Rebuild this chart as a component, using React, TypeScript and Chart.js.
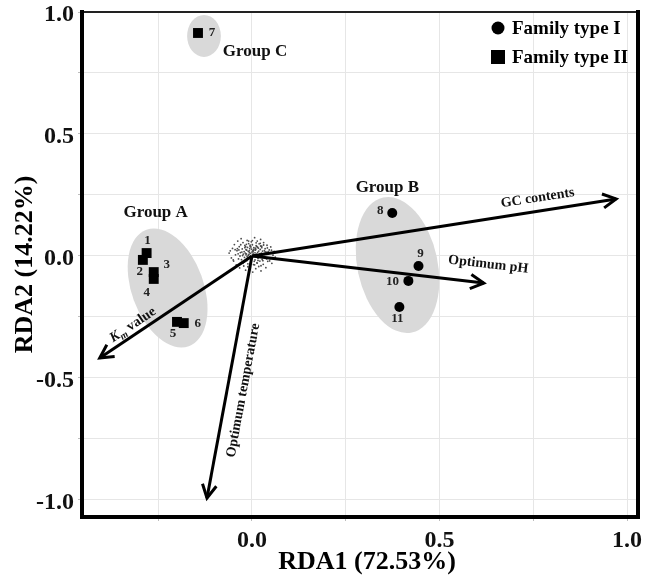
import React, { useEffect, useRef } from 'react';
import { Chart, registerables } from 'chart.js';
Chart.register(...registerables);

// ---------- data ----------
const typeIIIds = ['1', '2', '3', '4', '5', '6', '7'];
const typeIIX = [-0.281, -0.291, -0.262, -0.262, -0.2, -0.182, -0.144];
const typeIIY = [0.012, -0.016, -0.066, -0.094, -0.27, -0.275, 0.914];

const typeIIds = ['8', '9', '10', '11'];
const typeIX = [0.374, 0.444, 0.417, 0.393];
const typeIY = [0.176, -0.041, -0.102, -0.209];

const envNames = ['GC contents', 'Optimum pH', 'Km value', 'Optimum temperature'];
const envX = [0.971, 0.618, -0.406, -0.12];
const envY = [0.234, -0.111, -0.418, -0.992];

const cloudX = [
  -0.061, -0.055, -0.052, -0.049, -0.047, -0.044, -0.042, -0.04, -0.038, -0.036, -0.034, -0.033, -0.031, -0.029,
  -0.028, -0.026, -0.025, -0.024, -0.022, -0.021, -0.02, -0.019, -0.017, -0.016, -0.015, -0.014, -0.013, -0.012,
  -0.011, -0.01, -0.009, -0.008, -0.007, -0.006, -0.005, -0.004, -0.003, -0.002, -0.001, 0.0, 0.001, 0.002, 0.003,
  0.004, 0.005, 0.006, 0.007, 0.008, 0.009, 0.01, 0.011, 0.012, 0.013, 0.014, 0.015, 0.016, 0.017, 0.018, 0.019,
  0.02, 0.021, 0.022, 0.023, 0.024, 0.025, 0.026, 0.027, 0.028, 0.03, 0.031, 0.032, 0.034, 0.035, 0.037, 0.038,
  0.04, 0.042, 0.044, 0.046, 0.048, 0.05, 0.053, 0.056, 0.059, 0.062,
  -0.018, -0.01, -0.004, 0.003, 0.008, 0.012, -0.013, -0.006, 0.018, 0.006, -0.023, 0.015, -0.002, 0.021, 0.01,
  -0.027, 0.027, -0.008, 0.004, 0.016, -0.015, 0.033, -0.032, 0.0, 0.024, -0.02, 0.041, -0.039, 0.011, -0.011,
  -0.035, -0.028, -0.019, -0.012, -0.005, 0.002, 0.009, 0.016, 0.023, 0.029, 0.036, 0.043, -0.045, -0.03,
  -0.016, -0.007, 0.005, 0.013, 0.026, 0.039, -0.024, -0.009, 0.007, 0.019, 0.031, -0.017, 0.001, 0.014,
  -0.058, 0.052, -0.05, 0.047, -0.003, 0.022, -0.037, 0.035, -0.014, 0.008,
];
const cloudY = [
  0.012, -0.008, 0.031, -0.021, 0.047, 0.005, -0.037, 0.022, 0.061, -0.012, 0.038, -0.049, 0.014, 0.071,
  -0.027, 0.029, 0.002, 0.055, -0.041, 0.018, -0.006, 0.043, -0.058, 0.026, 0.009, -0.019, 0.064, 0.035,
  -0.032, 0.003, 0.051, -0.011, 0.021, -0.047, 0.039, 0.011, -0.024, 0.058, 0.028, -0.006, 0.046, -0.066, 0.017,
  -0.035, 0.034, 0.004, 0.075, -0.016, 0.024, -0.052, 0.042, 0.008, -0.028, 0.061, 0.015, -0.009, 0.032, -0.043, 0.05,
  0.001, -0.021, 0.027, 0.068, -0.061, 0.012, 0.04, -0.014, 0.02, -0.034, 0.055, 0.006, -0.004, 0.03, -0.048, 0.016,
  0.044, -0.022, 0.009, 0.025, -0.011, 0.037, -0.03, 0.003, 0.019, -0.005,
  0.012, 0.019, -0.002, 0.009, 0.013, -0.004, -0.002, 0.03, 0.02, -0.022, 0.008, 0.036, -0.014, 0.01, 0.028,
  0.016, 0.002, 0.007, 0.023, -0.018, 0.048, 0.022, 0.0, 0.016, -0.04, -0.025, 0.033, 0.03, 0.054, -0.044,
  0.025, -0.015, 0.034, -0.009, 0.044, 0.021, 0.032, 0.006, 0.041, -0.019, 0.011, 0.018, 0.026, 0.046,
  0.005, 0.014, 0.027, 0.039, 0.034, -0.012, -0.03, 0.061, -0.036, 0.002, 0.045, 0.038, 0.063, -0.029,
  0.021, 0.024, -0.016, -0.02, 0.037, 0.052, 0.009, 0.017, 0.024, 0.004,
];

const groupNames = ['Group A', 'Group B', 'Group C'];
const groupCX = [-0.225, 0.388, -0.128];
const groupCY = [-0.131, -0.037, 0.902];
const groupRX = [0.096, 0.107, 0.045];
const groupRY = [0.254, 0.283, 0.086];
const groupTilt = [-20, -12, 0];
const groupLabelX = [-0.257, 0.361, 0.008];
const groupLabelY = [0.176, 0.279, 0.836];

const xGrid = [-0.25, 0, 0.25, 0.5, 0.75, 1.0];
const yGrid = [-1.0, -0.75, -0.5, -0.25, 0, 0.25, 0.5, 0.75, 1.0];
const labeledTicks = [-1.0, -0.5, 0, 0.5, 1.0];

const xTitle = 'RDA1 (72.53%)';
const yTitle = 'RDA2 (14.22%)';
const legendLabels = ['Family type I', 'Family type II'];

// ---------- styles ----------
const SERIF = '"Liberation Serif", "Times New Roman", serif';
const labelOffsetsII = [[1, -12], [-3, 12], [13, -7], [-7, 14], [-4, 12], [14, 1], [14, 0]];
const labelOffsetsI = [[-12, -2], [2, -12], [-16, 1], [-2, 12]];
const envLabelStyle = [
  { frac: 0.79, off: 13 },
  { frac: 1.01, off: 19 },
  { frac: 0.75, off: 9 },
  { frac: 0.543, off: -16 },
];

const overlayPlugin = {
  id: 'overlay',
  beforeDatasetsDraw(chart: any) {
    const { ctx, chartArea } = chart;
    const xs = chart.scales.x;
    const ys = chart.scales.y;
    ctx.save();
    ctx.beginPath();
    ctx.rect(chartArea.left, chartArea.top, chartArea.right - chartArea.left, chartArea.bottom - chartArea.top);
    ctx.clip();
    ctx.fillStyle = '#d9d9d9';
    groupCX.forEach((cx, i) => {
      const px = xs.getPixelForValue(cx);
      const py = ys.getPixelForValue(groupCY[i]);
      const rx = Math.abs(xs.getPixelForValue(cx + groupRX[i]) - px);
      const ry = Math.abs(ys.getPixelForValue(groupCY[i] + groupRY[i]) - py);
      ctx.beginPath();
      ctx.ellipse(px, py, rx, ry, (groupTilt[i] * Math.PI) / 180, 0, Math.PI * 2);
      ctx.fill();
    });
    ctx.restore();
  },
  afterDatasetsDraw(chart: any) {
    const { ctx } = chart;
    const xs = chart.scales.x;
    const ys = chart.scales.y;
    const ox = xs.getPixelForValue(0);
    const oy = ys.getPixelForValue(0);
    ctx.save();
    // arrowheads
    ctx.strokeStyle = '#000';
    ctx.lineWidth = 3;
    ctx.lineJoin = 'miter';
    envX.forEach((ex, i) => {
      const tx = xs.getPixelForValue(ex);
      const ty = ys.getPixelForValue(envY[i]);
      const a = Math.atan2(ty - oy, tx - ox);
      const L = 15;
      const s = (28 * Math.PI) / 180;
      ctx.beginPath();
      ctx.moveTo(tx - L * Math.cos(a - s), ty - L * Math.sin(a - s));
      ctx.lineTo(tx, ty);
      ctx.lineTo(tx - L * Math.cos(a + s), ty - L * Math.sin(a + s));
      ctx.stroke();
    });
    // arrow labels
    ctx.fillStyle = '#111';
    envNames.forEach((name, i) => {
      const tx = xs.getPixelForValue(envX[i]);
      const ty = ys.getPixelForValue(envY[i]);
      const st = envLabelStyle[i];
      let ang = Math.atan2(ty - oy, tx - ox);
      if (tx - ox < 0) ang += Math.PI;
      const bx = ox + (tx - ox) * st.frac;
      const by = oy + (ty - oy) * st.frac;
      const nx = Math.sin(ang);
      const ny = -Math.cos(ang);
      const cx = bx + nx * st.off;
      const cy = by + ny * st.off;
      ctx.save();
      ctx.translate(cx, cy);
      ctx.rotate(ang);
      ctx.textBaseline = 'middle';
      if (name === 'Km value') {
        const fK = 'italic bold 14px ' + SERIF;
        const fm = 'italic bold 10px ' + SERIF;
        const fv = 'bold 14px ' + SERIF;
        ctx.font = fK; const wK = ctx.measureText('K').width;
        ctx.font = fm; const wm = ctx.measureText('m').width;
        ctx.font = fv; const wv = ctx.measureText(' value').width;
        let x0 = -(wK + wm + wv) / 2;
        ctx.textAlign = 'left';
        ctx.font = fK; ctx.fillText('K', x0, 0); x0 += wK;
        ctx.font = fm; ctx.fillText('m', x0, 4); x0 += wm;
        ctx.font = fv; ctx.fillText(' value', x0, 0);
      } else {
        ctx.font = 'bold 14px ' + SERIF;
        ctx.textAlign = 'center';
        ctx.fillText(name, 0, 0);
      }
      ctx.restore();
    });
    // point labels
    ctx.font = 'bold 13px ' + SERIF;
    ctx.textAlign = 'center';
    ctx.textBaseline = 'middle';
    ctx.fillStyle = '#222';
    typeIIIds.forEach((id, i) => {
      const px = xs.getPixelForValue(typeIIX[i]);
      const py = ys.getPixelForValue(typeIIY[i]);
      ctx.fillText(id, px + labelOffsetsII[i][0], py + labelOffsetsII[i][1]);
    });
    typeIIds.forEach((id, i) => {
      const px = xs.getPixelForValue(typeIX[i]);
      const py = ys.getPixelForValue(typeIY[i]);
      ctx.fillText(id, px + labelOffsetsI[i][0], py + labelOffsetsI[i][1]);
    });
    // group labels
    ctx.font = 'bold 17px ' + SERIF;
    ctx.fillStyle = '#111';
    groupNames.forEach((g, i) => {
      ctx.fillText(g, xs.getPixelForValue(groupLabelX[i]), ys.getPixelForValue(groupLabelY[i]));
    });
    ctx.restore();
  },
  afterDraw(chart: any) {
    const { ctx, chartArea } = chart;
    const { left, right, top, bottom } = chartArea;
    ctx.save();
    // frame
    ctx.strokeStyle = '#222';
    ctx.lineWidth = 2;
    ctx.beginPath();
    ctx.moveTo(left, top);
    ctx.lineTo(right, top);
    ctx.stroke();
    ctx.strokeStyle = '#000';
    ctx.lineWidth = 4;
    ctx.lineCap = 'square';
    ctx.beginPath();
    ctx.moveTo(left, top);
    ctx.lineTo(left, bottom);
    ctx.lineTo(right, bottom);
    ctx.lineTo(right, top);
    ctx.stroke();
    // legend
    ctx.fillStyle = '#000';
    const lx = right - 140;
    ctx.beginPath();
    ctx.arc(lx, top + 16, 6.5, 0, Math.PI * 2);
    ctx.fill();
    ctx.fillRect(lx - 7, top + 45 - 7, 14, 14);
    ctx.font = 'bold 19px ' + SERIF;
    ctx.textAlign = 'left';
    ctx.textBaseline = 'middle';
    ctx.fillText(legendLabels[0], lx + 14, top + 17);
    ctx.fillText(legendLabels[1], lx + 14, top + 46);
    // axis titles
    ctx.font = 'bold 26px ' + SERIF;
    ctx.textAlign = 'center';
    ctx.textBaseline = 'middle';
    ctx.fillText(xTitle, (left + right) / 2 + 7, bottom + 45);
    ctx.save();
    ctx.translate(25, (top + bottom) / 2);
    ctx.rotate(-Math.PI / 2);
    ctx.fillText(yTitle, 0, 0);
    ctx.restore();
    ctx.restore();
  },
};

export default function App() {
  const ref = useRef<HTMLCanvasElement | null>(null);
  useEffect(() => {
    if (!ref.current) return;
    const tickCb = (v: any) => {
      const n = Number(v);
      return labeledTicks.some((t) => Math.abs(t - n) < 1e-9) ? n.toFixed(1) : '';
    };
    const chart = new Chart(ref.current, {
      type: 'scatter',
      data: {
        datasets: [
          {
            label: 'cloud',
            data: cloudX.map((x, i) => ({ x, y: cloudY[i] })),
            pointRadius: 0.9,
            pointBackgroundColor: '#4a4a4a',
            pointBorderWidth: 0,
            order: 4,
          } as any,
          ...envX.map((x, i) => ({
            label: envNames[i],
            data: [{ x: 0, y: 0 }, { x, y: envY[i] }],
            showLine: true,
            borderColor: '#000',
            borderWidth: 3,
            pointRadius: 0,
            fill: false,
            order: 3,
          })),
          {
            label: legendLabels[1],
            data: typeIIX.map((x, i) => ({ x, y: typeIIY[i] })),
            pointStyle: 'rect',
            pointRadius: 7,
            pointBackgroundColor: '#000',
            pointBorderWidth: 0,
            order: 1,
          },
          {
            label: legendLabels[0],
            data: typeIX.map((x, i) => ({ x, y: typeIY[i] })),
            pointStyle: 'circle',
            pointRadius: 5,
            pointBackgroundColor: '#000',
            pointBorderWidth: 0,
            order: 1,
          },
        ],
      },
      options: {
        animation: false,
        responsive: true,
        maintainAspectRatio: false,
        layout: { padding: { left: 0, top: 12, right: 14, bottom: 0 } },
        plugins: { legend: { display: false }, tooltip: { enabled: false } },
        scales: {
          x: {
            type: 'linear',
            min: -0.4533,
            max: 1.0293,
            afterBuildTicks: (s: any) => { s.ticks = xGrid.map((v) => ({ value: v })); },
            afterFit: (s: any) => { s.height = 62; s.paddingLeft = 0; s.paddingRight = 0; },
            grid: { color: '#e6e6e6', lineWidth: 1, tickLength: 4, tickColor: '#bdbdbd' },
            border: { display: false },
            ticks: {
              callback: tickCb,
              autoSkip: false,
              maxRotation: 0,
              padding: 5,
              color: '#111',
              font: { family: SERIF, size: 24, weight: 'bold' },
            },
          },
          y: {
            type: 'linear',
            min: -1.0697,
            max: 1.0,
            afterBuildTicks: (s: any) => { s.ticks = yGrid.map((v) => ({ value: v })); },
            afterFit: (s: any) => { s.width = 82; s.paddingTop = 0; s.paddingBottom = 0; },
            grid: { color: '#e6e6e6', lineWidth: 1, tickLength: 4, tickColor: '#bdbdbd' },
            border: { display: false },
            ticks: {
              callback: tickCb,
              autoSkip: false,
              padding: 4,
              labelOffset: 3,
              color: '#111',
              font: { family: SERIF, size: 24, weight: 'bold' },
            },
          },
        },
      } as any,
      plugins: [overlayPlugin],
    });
    return () => chart.destroy();
  }, []);
  return (
    <div style={{ position: 'absolute', left: 0, top: 0, width: 652, height: 579 }}>
      <canvas ref={ref} />
    </div>
  );
}
